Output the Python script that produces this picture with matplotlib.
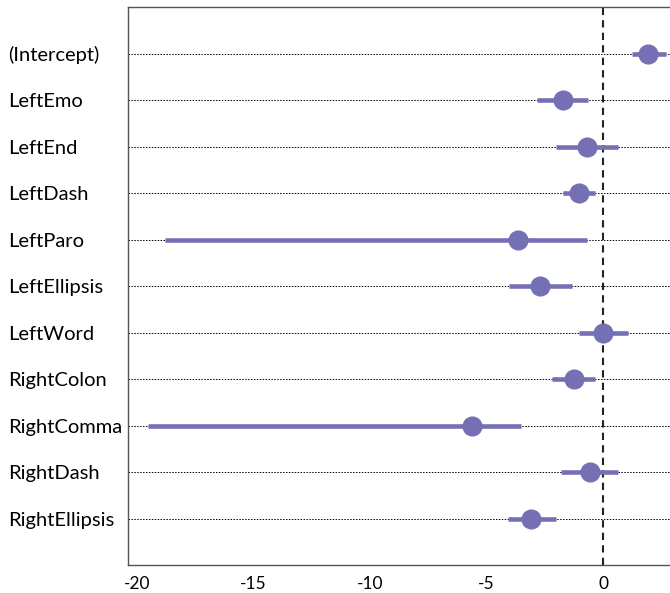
import matplotlib
matplotlib.use("Agg")
import matplotlib.pyplot as plt
import numpy as np

# coefficient names, top to bottom
terms = ["(Intercept)", "LeftEmo", "LeftEnd", "LeftDash", "LeftParo", "LeftEllipsis",
         "LeftWord", "RightColon", "RightComma", "RightDash", "RightEllipsis"]
estimate = [1.92, -1.71, -0.68, -1.03, -3.67, -2.69, 0.0, -1.26, -5.64, -0.56, -3.08]
lower = [1.24, -2.82, -2.01, -1.71, -18.8, -4.02, -1.03, -2.18, -19.5, -1.79, -4.1]
upper = [2.69, -0.64, 0.64, -0.34, -0.68, -1.32, 1.07, -0.34, -3.5, 0.64, -2.0]
xticks = [-20, -15, -10, -5, 0]

plt.rcParams['font.family'] = ['Lato', 'DejaVu Sans']
col = '#7570b3'

fig = plt.figure(figsize=(6.7, 5.93), dpi=100)
ax = fig.add_axes([0.191, 0.047, 0.809, 0.941])

ypos = np.arange(len(terms), 0, -1)

for y in ypos:
    ax.axhline(y, color='black', lw=0.7, ls=(0, (1.5, 1.5)), zorder=1)
ax.axvline(0, color='#222222', lw=1.5, ls=(0, (3.5, 2.5)), zorder=2)

ax.hlines(ypos, lower, upper, color=col, lw=3.3, zorder=3)
ax.plot(estimate, ypos, 'o', color=col, ms=13.5, zorder=4)

ax.set_xlim(-20.38, 2.87)
ax.set_ylim(0, len(terms) + 1)
ax.set_xticks(xticks)
ax.set_xticklabels([str(t) for t in xticks], fontsize=12.5)
ax.set_yticks(ypos)
ax.set_yticklabels(terms, fontsize=14.5, ha='left')
ax.tick_params(axis='both', length=0)
ax.tick_params(axis='y', pad=86)
ax.tick_params(axis='x', pad=8)

for s in ['top', 'left', 'bottom']:
    ax.spines[s].set_color('#555555')
    ax.spines[s].set_linewidth(1.0)
ax.spines['right'].set_visible(False)

fig.savefig("out.png", dpi=100)
